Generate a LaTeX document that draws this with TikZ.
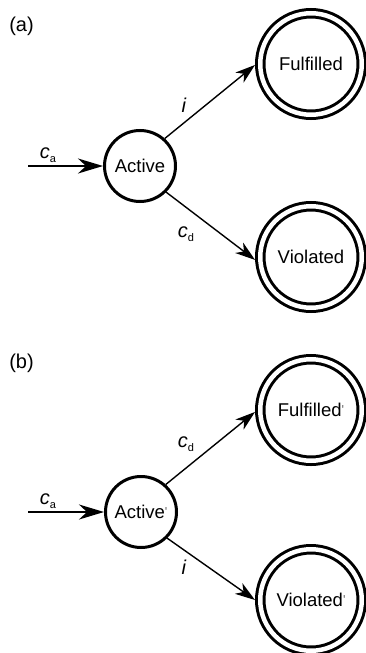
\documentclass[tikz,border=0pt]{standalone}
\usepackage{fontspec}
\setmainfont{Liberation Sans}
\usetikzlibrary{arrows.meta}
\newcommand{\lbl}[2]{\textit{#1}\raisebox{-4pt}{\fontsize{11}{12}\selectfont #2}}
\newcommand{\prm}{{\color{black!60}\fontsize{13}{13}\selectfont\raisebox{2pt}{\textquotesingle}}}
\begin{document}
\begin{tikzpicture}[x=1pt,y=-1pt,
  statebox/.style={circle, draw, line width=3pt, minimum size=71pt, inner sep=0pt,
     font=\fontsize{18.5}{20}\selectfont},
  finalbox/.style={circle, draw, double, line width=3pt, double distance=4.5pt,
     minimum size=101.5pt, inner sep=0pt, outer sep=5.25pt, font=\fontsize{18.5}{20}\selectfont},
  trans/.style={line width=1.4pt, -{Stealth[length=20pt, width=13pt, inset=6pt]}},
  entry/.style={line width=2.2pt, -{Stealth[length=25pt, width=15pt, inset=8pt]}},
  lab/.style={inner sep=0pt, font=\fontsize{20}{22}\selectfont},
  panel/.style={inner sep=0pt, font=\fontsize{20}{22}\selectfont}]
\useasboundingbox (0,0) rectangle (365,653);

% panel (a)
\node[panel] (pa) at (21.5,26) {(a)};
\node[statebox] (A1) at (140,166) {Active};
\node[finalbox] (F1) at (311,64) {Fulfilled};
\node[finalbox] (V1) at (311,257) {Violated};
\coordinate (s1) at (28,166);
\draw[entry] (s1) -- (A1);
\draw[trans] (A1.48) -- (F1.181);
\draw[trans] (A1.-45) -- (V1.183);
\node[lab] (ca1) at (48,155) {\lbl{c}{a}};
\node[lab] (i1) at (184,105) {\textit{i}};
\node[lab] (cd1) at (186,234) {\lbl{c}{d}};

% panel (b)
\node[panel] (pb) at (21.5,363) {(b)};
\node[statebox] (A2) at (141,512) {Active\prm};
\node[finalbox] (F2) at (311,410) {Fulfilled\prm};
\node[finalbox] (V2) at (311,600) {Violated\prm};
\coordinate (s2) at (28,512);
\draw[entry] (s2) -- (A2);
\draw[trans] (A2.48) -- (F2.182);
\draw[trans] (A2.-45) -- (V2.180);
\node[lab] (ca2) at (48,501) {\lbl{c}{a}};
\node[lab] (cd2) at (186,444) {\lbl{c}{d}};
\node[lab] (i2) at (184,567) {\textit{i}};
\end{tikzpicture}
\end{document}
